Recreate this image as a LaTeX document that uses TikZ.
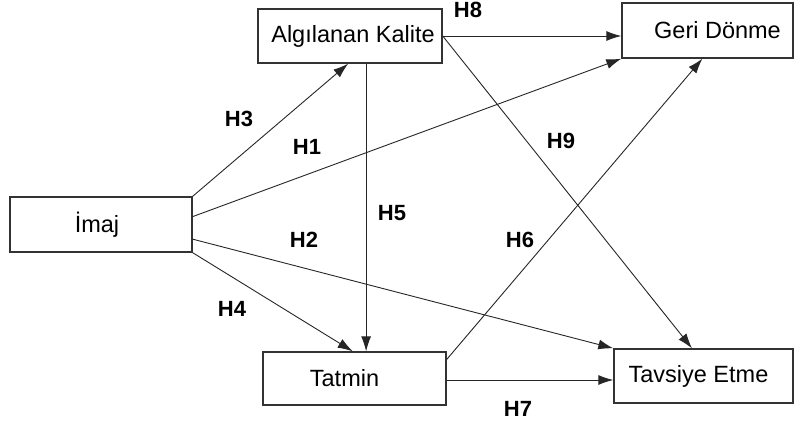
\documentclass[tikz,border=0pt]{standalone}
\usepackage{fontspec}
\setmainfont{Liberation Sans}
\usetikzlibrary{arrows.meta,calc}
\begin{document}
\begin{tikzpicture}[x=1pt,y=-1pt,
  box/.style={draw=black!80,line width=1.4pt,rectangle,inner sep=0pt,
    font=\fontsize{23.5}{28}\selectfont},
  link/.style={draw=black!85,line width=0.9pt,-{Latex[length=15pt,width=10pt]}},
  hyp/.style={font=\bfseries\fontsize{22}{26}\selectfont,inner sep=0pt}]
\useasboundingbox (0,0) rectangle (795,423);
% constructs
\node[box,minimum width=182pt,minimum height=55pt] (imaj) at (101,224.5) {İmaj\hspace*{8pt}};
\node[box,minimum width=184pt,minimum height=54pt] (alg) at (350,36) {\hspace*{6pt}Algılanan Kalite};
\node[box,minimum width=171pt,minimum height=55pt] (geri) at (707.5,30.5) {\hspace*{20pt}Geri Dönme};
\node[box,minimum width=183pt,minimum height=53pt] (tat) at (354.5,378.5) {Tatmin\hspace*{20pt}};
\node[box,minimum width=179pt,minimum height=54pt] (tav) at (703.5,376) {Tavsiye Etme\hspace*{10pt}};
% attachment points
\coordinate (i1) at ($(imaj.north east)!0.36!(imaj.south east)$);
\coordinate (i2) at ($(imaj.north east)!0.76!(imaj.south east)$);
\coordinate (a3) at ($(alg.south west)!0.49!(alg.south east)$);
\coordinate (t4) at ($(tat.north west)!0.49!(tat.north east)$);
\coordinate (t5) at ($(tat.north west)!0.563!(tat.north east)$);
\coordinate (v9) at ($(tav.north west)!0.436!(tav.north east)$);
\coordinate (g6) at ($(geri.south west)!0.47!(geri.south east)$);
\coordinate (t6) at ($(tat.north east)!0.15!(tat.south east)$);
% paths
\draw[link] (imaj.north east) -- (a3);
\draw[link] (i1) -- (geri.south west);
\draw[link] (i2) -- (tav.north west);
\draw[link] (imaj.south east) -- (t4);
\draw[link] (t5 |- alg.south) -- (t5);
\draw[link] (alg.east) -- (alg.east -| geri.west);
\draw[link] (alg.east) -- (v9);
\draw[link] (t6) -- (g6);
\draw[link] (tat.east |- 0,380) -- (tav.west |- 0,380);
% hypothesis labels
\node[hyp] (h1) at (307,147) {H1};
\node[hyp] (h2) at (304,240) {H2};
\node[hyp] (h3) at (239,119) {H3};
\node[hyp] (h4) at (232,309) {H4};
\node[hyp] (h5) at (392,213) {H5};
\node[hyp] (h6) at (520,240) {H6};
\node[hyp] (h7) at (518,409) {H7};
\node[hyp] (h8) at (468,10) {H8};
\node[hyp] (h9) at (561,141) {H9};
\end{tikzpicture}
\end{document}
